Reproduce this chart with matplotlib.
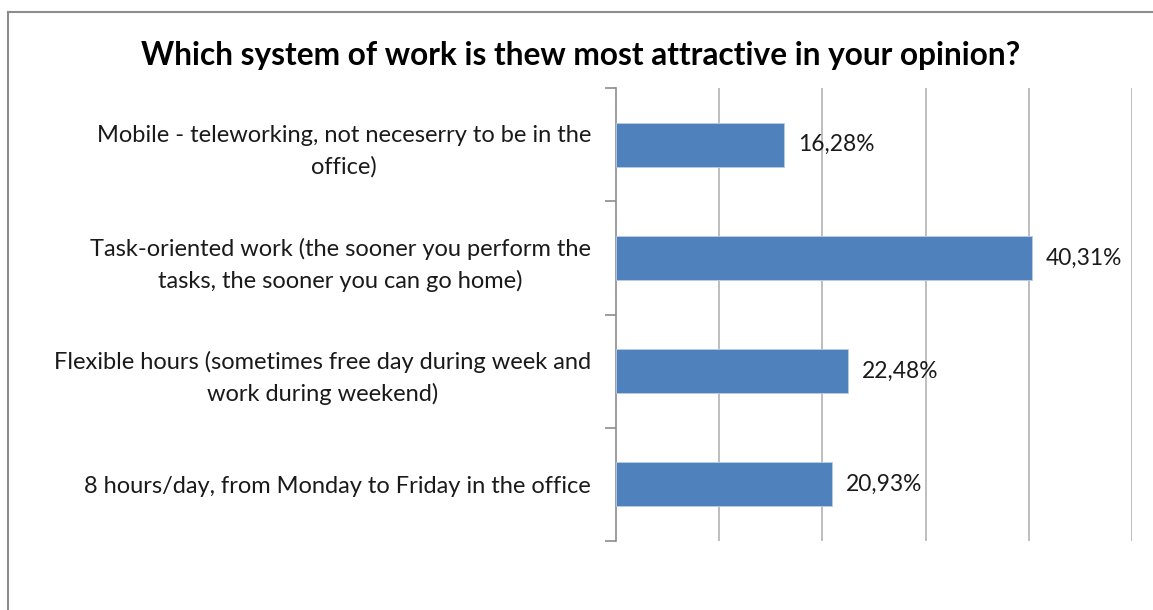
import matplotlib
matplotlib.use("Agg")
import matplotlib.pyplot as plt
from matplotlib.lines import Line2D

categories = [
    "Mobile - teleworking, not neceserry to be in the\noffice)",
    "Task-oriented work (the sooner you perform the\ntasks, the sooner you can go home)",
    "Flexible hours (sometimes free day during week and\nwork during weekend)",
    "8 hours/day, from Monday to Friday in the office",
]
values = [16.28, 40.31, 22.48, 20.93]
value_labels = ["16,28%", "40,31%", "22,48%", "20,93%"]
title = "Which system of work is thew most attractive in your opinion?"

plt.rcParams['font.family'] = ['Lato', 'DejaVu Sans']

W, H = 1153, 610
fig = plt.figure(figsize=(W / 100, H / 100), dpi=100)
ax = fig.add_axes([616 / W, 1 - 541 / H, (1132 - 616) / W, (541 - 88) / H])

n = len(categories)
ypos = list(range(n))
ax.barh(ypos, values, height=0.39, color='#4F81BD', edgecolor='#B9CDE5', linewidth=0.6, zorder=3)
ax.set_ylim(n - 0.5, -0.5)
ax.set_xlim(0, 50)
ax.set_xticks([10, 20, 30, 40, 50])
ax.xaxis.grid(True, color='#B3B3B3', linewidth=1.2, zorder=0)
ax.tick_params(axis='x', length=0, labelbottom=False)
for s in ['top', 'right', 'bottom']:
    ax.spines[s].set_visible(False)
ax.spines['left'].set_color('#8C8C8C')
ax.spines['left'].set_linewidth(1.2)

# category labels
ax.set_yticks(ypos)
ax.set_yticklabels(categories, fontsize=17, color='#1A1A1A', ha='right',
                   multialignment='center', linespacing=1.55)
ax.tick_params(axis='y', length=0, pad=18)
# boundary ticks
ax.set_yticks([i - 0.5 for i in range(n + 1)], minor=True)
ax.tick_params(axis='y', which='minor', length=8, width=1.2, color='#8C8C8C', direction='out')

for y, v, lab in zip(ypos, values, value_labels):
    ax.annotate(lab, xy=(v, y), xytext=(10, 0), textcoords='offset points',
                ha='left', va='center', fontsize=16.4, color='#1A1A1A')

fig.text(581 / W, 1 - 55 / H, title, ha='center', va='center', fontsize=22.8,
         fontweight='bold', color='black')

# outer frame (top and left edges visible)
fig.add_artist(Line2D([8 / W, 1], [1 - 12 / H, 1 - 12 / H], color='#8C8C8C', linewidth=1.5,
                      transform=fig.transFigure))
fig.add_artist(Line2D([8 / W, 8 / W], [0, 1 - 12 / H], color='#8C8C8C', linewidth=1.5,
                      transform=fig.transFigure))

fig.savefig("out.png", dpi=100, facecolor='white')
